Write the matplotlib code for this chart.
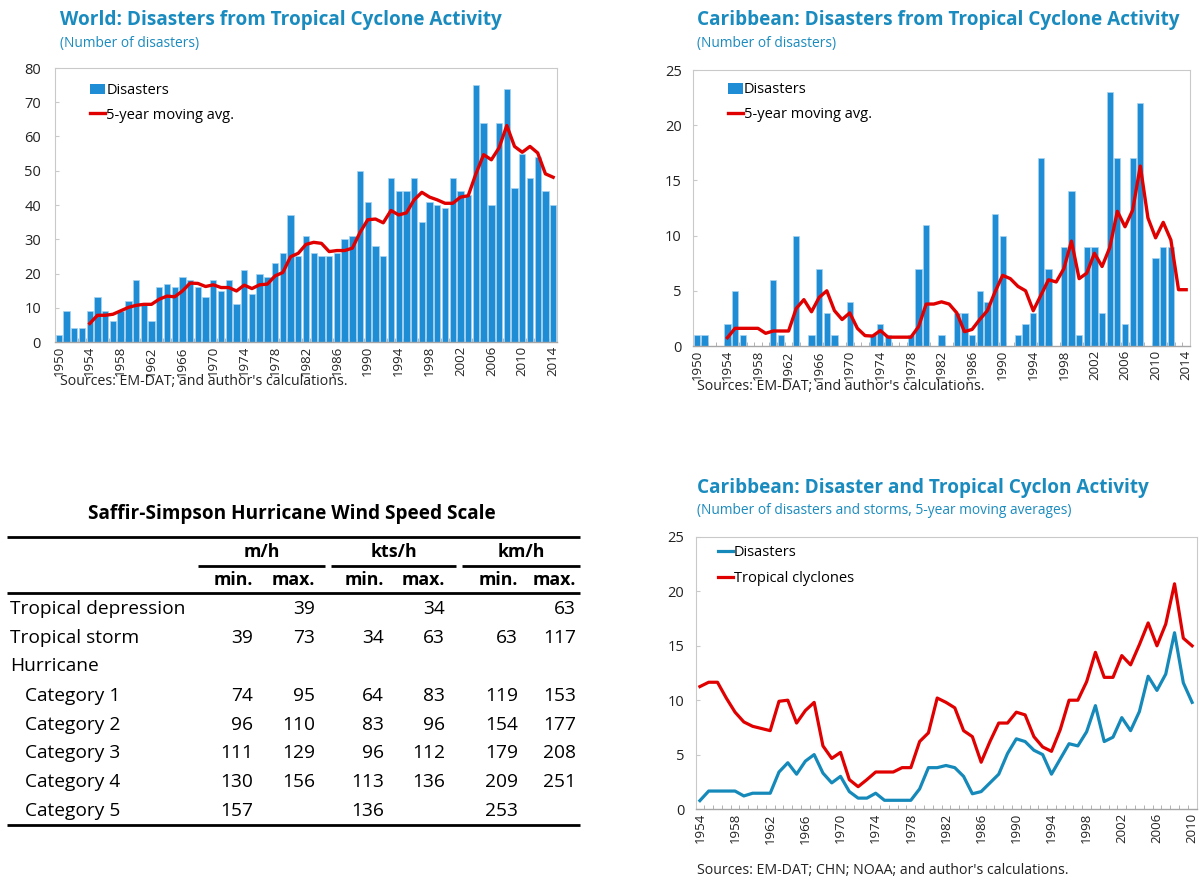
import numpy as np
import matplotlib
matplotlib.use("Agg")
import matplotlib.pyplot as plt
from matplotlib.patches import Patch
from matplotlib.lines import Line2D

plt.rcParams['font.family'] = ['Open Sans', 'DejaVu Sans']

# ---------------- data ----------------
years_top = list(range(1950, 2015))
world_disasters = [2, 9, 4, 4, 9, 13, 9, 6, 9, 12,
                   18, 11, 6, 16, 17, 16, 19, 18, 16, 13,
                   18, 15, 18, 11, 21, 14, 20, 19, 23, 26,
                   37, 25, 31, 26, 25, 25, 26, 30, 31, 50,
                   41, 28, 25, 48, 44, 44, 48, 35, 41, 40,
                   39, 48, 44, 43, 75, 64, 40, 64, 74, 45,
                   55, 48, 54, 44, 40]
ma_years = list(range(1954, 2015))
world_ma = [5.4, 7.8, 7.8, 8.1, 9.1, 10.1, 10.7, 11.0, 11.0, 12.5,
            13.4, 13.2, 14.9, 17.2, 17.1, 16.2, 16.7, 15.9, 15.9, 14.9,
            16.6, 15.6, 16.7, 16.9, 19.3, 20.3, 24.9, 25.9, 28.5, 29.1,
            28.8, 26.4, 26.7, 26.7, 27.4, 32.0, 35.7, 35.9, 34.8, 38.4,
            37.1, 37.7, 41.5, 43.7, 42.3, 41.5, 40.5, 40.5, 42.3, 42.7,
            49.1, 54.7, 53.2, 56.7, 63.2, 57.1, 55.4, 57.1, 55.2, 49.1,
            48.1]
carib_disasters = [1, 1, 0, 0, 2, 5, 1, 0, 0, 0,
                   6, 1, 0, 10, 0, 1, 7, 3, 1, 0,
                   4, 0, 0, 1, 2, 1, 0, 0, 1, 7,
                   11, 0, 1, 0, 3, 3, 1, 5, 4, 12,
                   10, 0, 1, 2, 3, 17, 7, 0, 9, 14,
                   1, 9, 9, 3, 23, 17, 2, 17, 22, 0,
                   8, 9, 9, 0, 0]
carib_ma = [0.75, 1.6, 1.6, 1.6, 1.6, 1.15, 1.36, 1.36, 1.36, 3.4,
            4.2, 3.1, 4.4, 5.0, 3.2, 2.4, 3.0, 1.6, 0.94, 0.9,
            1.4, 0.8, 0.8, 0.8, 0.8, 1.75, 3.8, 3.8, 4.0, 3.8,
            3.0, 1.3, 1.5, 2.4, 3.2, 4.9, 6.4, 6.1, 5.4, 5.0,
            3.2, 4.6, 6.0, 5.8, 7.0, 9.5, 6.1, 6.6, 8.4, 7.2,
            8.9, 12.2, 10.8, 12.3, 16.3, 11.6, 9.8, 11.2, 9.6, 5.1,
            5.1]

years_bot = list(range(1954, 2011))
bot_disasters = [0.77, 1.65, 1.65, 1.65, 1.65, 1.2, 1.45, 1.45, 1.45, 3.4,
                 4.25, 3.2, 4.4, 5.0, 3.3, 2.4, 3.0, 1.6, 1.0, 1.0,
                 1.45, 0.8, 0.8, 0.8, 0.8, 1.85, 3.8, 3.8, 4.0, 3.8,
                 3.0, 1.4, 1.6, 2.4, 3.2, 5.1, 6.45, 6.2, 5.4, 5.0,
                 3.2, 4.6, 6.0, 5.8, 7.1, 9.5, 6.2, 6.6, 8.4, 7.2,
                 8.95, 12.2, 10.9, 12.4, 16.2, 11.6, 9.8]
bot_cyclones = [11.25, 11.65, 11.65, 10.2, 8.9, 8.0, 7.6, 7.4, 7.2, 9.9,
                10.0, 7.9, 9.05, 9.8, 5.8, 4.65, 5.2, 2.7, 2.05, 2.7,
                3.4, 3.4, 3.4, 3.8, 3.8, 6.2, 7.0, 10.2, 9.8, 9.3,
                7.2, 6.65, 4.3, 6.2, 7.9, 7.9, 8.9, 8.65, 6.65, 5.7,
                5.3, 7.3, 10.0, 10.0, 11.7, 14.4, 12.1, 12.1, 14.1, 13.25,
                15.1, 17.1, 15.0, 17.0, 20.7, 15.7, 15.0]

table_title = "Saffir-Simpson Hurricane Wind Speed Scale"
table_groups = ["m/h", "kts/h", "km/h"]
table_sub = ["min.", "max."]
table_rows = ["Tropical depression", "Tropical storm", "Hurricane",
              "Category 1", "Category 2", "Category 3", "Category 4", "Category 5"]
table_indent = [False, False, False, True, True, True, True, True]
mh_min = [None, 39, None, 74, 96, 111, 130, 157]
mh_max = [39, 73, None, 95, 110, 129, 156, None]
kts_min = [None, 34, None, 64, 83, 96, 113, 136]
kts_max = [34, 63, None, 83, 96, 112, 136, None]
km_min = [None, 63, None, 119, 154, 179, 209, 253]
km_max = [63, 117, None, 153, 177, 208, 251, None]

# ---------------- style ----------------
W, H = 1204, 880
TITLE_C = '#1a8bbf'
BAR_C = '#1f8dd6'
BAR_EDGE = '#a9d4f0'
RED = '#e00000'
BLUE_L = '#1589b9'
SPINE = '#c9c9c9'
AXIS = '#a6a6a6'
TXT = '#222222'
TITLE_FS = 13.7
SUB_FS = 9.9
SRC_FS = 10.2
XT_FS = 9.5
YT_FS = 10.5
LEG_FS = 10.5

fig = plt.figure(figsize=(W / 100, H / 100), dpi=100)


def rect(l, t, r, b):
    return [l / W, 1 - b / H, (r - l) / W, (b - t) / H]


def ftext(x, y, s, **kw):
    fig.text(x / W, 1 - y / H, s, **kw)


def style_axes(ax, ypad):
    for s in ['top', 'right', 'left']:
        ax.spines[s].set_color(SPINE)
        ax.spines[s].set_linewidth(0.8)
    ax.spines['bottom'].set_color(AXIS)
    ax.spines['bottom'].set_linewidth(1.0)
    ax.tick_params(axis='y', direction='in', length=3, color=SPINE,
                   labelsize=YT_FS, labelcolor=TXT, pad=ypad)
    ax.tick_params(axis='x', which='major', length=0, labelsize=XT_FS,
                   labelcolor=TXT, pad=3, labelrotation=90)
    ax.tick_params(axis='x', which='minor', direction='in', length=3,
                   color=AXIS)


def bar_panel(rect_px, disasters, ma, ymax, ystep, ypad, legend_anchor):
    ax = fig.add_axes(rect(*rect_px))
    ax.bar(years_top, disasters, width=0.82, color=BAR_C, edgecolor=BAR_EDGE,
           linewidth=0.5, label='Disasters', zorder=2)
    ax.plot(ma_years, ma, color=RED, lw=2.4, solid_joinstyle='round',
            label='5-year moving avg.', zorder=3)
    ax.set_xlim(years_top[0] - 0.5, years_top[-1] + 0.5)
    ax.set_ylim(0, ymax)
    ax.set_yticks(np.arange(0, ymax + 0.1, ystep))
    ax.set_xticks(years_top[::4])
    ax.set_xticks(np.arange(years_top[0] - 0.5, years_top[-1] + 1.0, 1), minor=True)
    ax.set_xticklabels([str(y) for y in years_top[::4]])
    style_axes(ax, ypad)
    handles = [Patch(facecolor=BAR_C, edgecolor='none'),
               Line2D([0], [0], color=RED, lw=2.4)]
    ax.legend(handles, ['Disasters', '5-year moving avg.'], loc='upper left',
              bbox_to_anchor=legend_anchor, frameon=False, fontsize=LEG_FS,
              handlelength=1.05, handleheight=0.75, handletextpad=0.05,
              labelspacing=0.65, borderaxespad=0, borderpad=0)
    return ax


# ---- World ----
ftext(60, 20, "World: Disasters from Tropical Cyclone Activity", fontsize=TITLE_FS,
      fontweight='bold', color=TITLE_C, va='center', ha='left')
ftext(60, 43, "(Number of disasters)", fontsize=SUB_FS, color=TITLE_C,
      va='center', ha='left')
bar_panel((55, 68, 557, 342), world_disasters, world_ma, 80, 10, 10,
          (0.07, 0.945))
ftext(60, 381, "Sources: EM-DAT; and author's calculations.", fontsize=SRC_FS,
      color=TXT, va='center', ha='left')

# ---- Caribbean bars ----
ftext(697, 20, "Caribbean: Disasters from Tropical Cyclone Activity", fontsize=TITLE_FS,
      fontweight='bold', color=TITLE_C, va='center', ha='left')
ftext(697, 43, "(Number of disasters)", fontsize=SUB_FS, color=TITLE_C,
      va='center', ha='left')
bar_panel((693, 70, 1190, 346), carib_disasters, carib_ma, 25, 5, 8,
          (0.07, 0.955))
ftext(697, 386, "Sources: EM-DAT; and author's calculations.", fontsize=SRC_FS,
      color=TXT, va='center', ha='left')

# ---- Caribbean lines ----
ftext(697, 488, "Caribbean: Disaster and Tropical Cyclon Activity", fontsize=TITLE_FS,
      fontweight='bold', color=TITLE_C, va='center', ha='left')
ftext(697, 510, "(Number of disasters and storms, 5-year moving averages)",
      fontsize=SUB_FS, color=TITLE_C, va='center', ha='left')
ax3 = fig.add_axes(rect(695.5, 537, 1196.5, 809))
ax3.plot(years_bot, bot_disasters, color=BLUE_L, lw=2.3, label='Disasters')
ax3.plot(years_bot, bot_cyclones, color=RED, lw=2.3, label='Tropical clyclones')
ax3.set_xlim(years_bot[0] - 0.5, years_bot[-1] + 0.5)
ax3.set_ylim(0, 25)
ax3.set_yticks(np.arange(0, 26, 5))
ax3.set_xticks(years_bot[::4])
ax3.set_xticklabels([str(y) for y in years_bot[::4]])
ax3.set_xticks(np.arange(years_bot[0] - 0.5, years_bot[-1] + 1.0, 1), minor=True)
style_axes(ax3, 8)
ax3.legend(loc='upper left', bbox_to_anchor=(0.045, 0.97), frameon=False,
           fontsize=LEG_FS, handlelength=1.05, handletextpad=0.05,
           labelspacing=0.75, borderaxespad=0, borderpad=0)
ftext(697, 870, "Sources: EM-DAT; CHN; NOAA; and author's calculations.",
      fontsize=SRC_FS, color=TXT, va='center', ha='left')

# ---- Table ----
tab = fig.add_axes([0, 0, 1, 1], zorder=-1)
tab.set_xlim(0, W)
tab.set_ylim(H, 0)
tab.axis('off')
ROW_FS = 13.8
HEAD_FS = 12.8
tab.text(292, 514, table_title, fontsize=13.7, fontweight='bold', color='black',
         ha='center', va='center')
tab.plot([7, 580], [537, 537], color='black', lw=2.0, solid_capstyle='butt')
tab.plot([7, 580], [593, 593], color='black', lw=2.0, solid_capstyle='butt')
tab.plot([7, 580], [825, 825], color='black', lw=2.0, solid_capstyle='butt')
group_spans = [(198, 325), (331, 456), (462, 580)]
col_right = [(253, 315), (384, 445), (518, 576)]
for (l, r), g in zip(group_spans, table_groups):
    tab.plot([l, r], [566, 566], color='black', lw=2.0, solid_capstyle='butt')
    tab.text((l + r) / 2, 552, g, fontsize=HEAD_FS, fontweight='bold',
             ha='center', va='center')
for (rmin, rmax) in col_right:
    tab.text(rmin, 580, table_sub[0], fontsize=HEAD_FS, fontweight='bold',
             ha='right', va='center')
    tab.text(rmax, 580, table_sub[1], fontsize=HEAD_FS, fontweight='bold',
             ha='right', va='center')
row_y = [609, 638, 666, 696, 725, 753, 782, 811]
cols = [mh_min, mh_max, kts_min, kts_max, km_min, km_max]
col_x = [c for pair in col_right for c in pair]
for i, name in enumerate(table_rows):
    x0 = 25 if table_indent[i] else 10
    tab.text(x0, row_y[i], name, fontsize=ROW_FS, ha='left', va='center')
    for vals, cx in zip(cols, col_x):
        v = vals[i]
        if v is not None:
            tab.text(cx, row_y[i], str(v), fontsize=ROW_FS, ha='right', va='center')

fig.savefig('out.png', dpi=100)
